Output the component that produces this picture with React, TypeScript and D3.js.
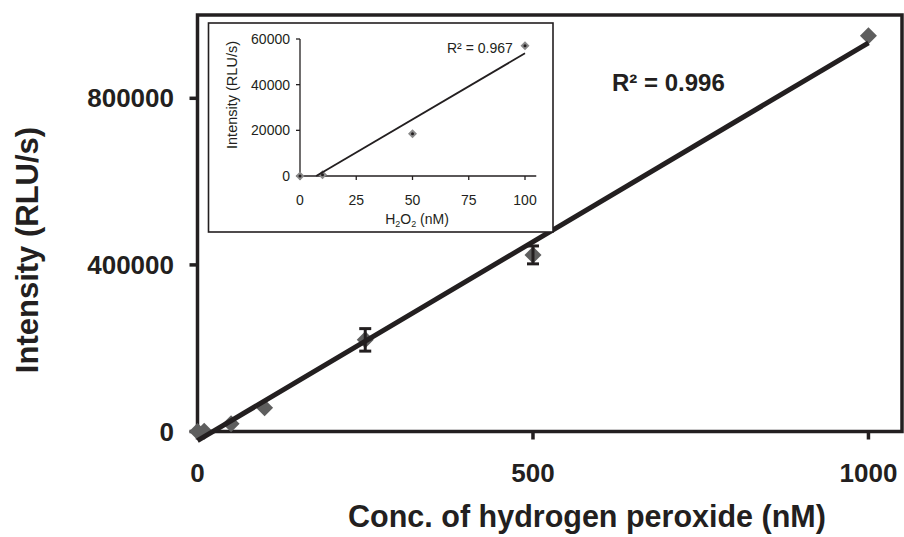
import React from "react";
import * as d3 from "d3";

const concentrations = [0, 10, 50, 100, 250, 500, 1000];
const intensities = [0, 500, 18500, 57000, 220000, 424000, 950000];
const errors = [0, 0, 0, 0, 27000, 21500, 0];
const mainXTicks = [0, 500, 1000];
const mainYTicks = [0, 400000, 800000];

const insetConc = [0, 10, 50, 100];
const insetInt = [0, 500, 18500, 57000];
const insetXTicks = [0, 25, 50, 75, 100];
const insetYTicks = [0, 20000, 40000, 60000];

const mainR2 = "R² = 0.996";
const insetR2 = "R² = 0.967";

function linreg(xs: number[], ys: number[]) {
  const n = xs.length;
  const mx = d3.mean(xs)!;
  const my = d3.mean(ys)!;
  let sxy = 0, sxx = 0;
  for (let i = 0; i < n; i++) {
    sxy += (xs[i] - mx) * (ys[i] - my);
    sxx += (xs[i] - mx) * (xs[i] - mx);
  }
  const slope = sxy / sxx;
  return { slope, intercept: my - slope * mx };
}

const FONT = "'Liberation Sans', Arial, Helvetica, sans-serif";
const DARK = "#231f20";

export default function App() {
  // main scales
  const x = d3.scaleLinear().domain([0, 1050]).range([197.5, 902]);
  const y = d3.scaleLinear().domain([0, 1000000]).range([431.5, 15]);
  const reg = linreg(concentrations, intensities);

  // inset scales
  const ix = d3.scaleLinear().domain([0, 105]).range([300, 536.25]);
  const iy = d3.scaleLinear().domain([0, 60000]).range([176, 39]);
  const ireg = linreg(insetConc, insetInt);
  const ix0 = Math.max(0, -ireg.intercept / ireg.slope);

  const diamond = (cx: number, cy: number, r: number) =>
    `M${cx},${cy - r}L${cx + r},${cy}L${cx},${cy + r}L${cx - r},${cy}Z`;

  return (
    <svg
      width={904}
      height={537}
      style={{ position: "absolute", left: 0, top: 0, background: "#fff" }}
      fontFamily={FONT}
    >
      <rect x={0} y={0} width={904} height={537} fill="#fff" />
      {/* main frame */}
      <rect
        x={x(0)}
        y={y(1000000)}
        width={x(1050) - x(0)}
        height={y(0) - y(1000000)}
        fill="none"
        stroke={DARK}
        strokeWidth={3.5}
      />
      {/* y ticks */}
      {mainYTicks.map((t) => (
        <g key={"yt" + t}>
          <line x1={x(0) - 8} x2={x(0)} y1={y(t)} y2={y(t)} stroke={DARK} strokeWidth={3.5} />
          <text
            x={174}
            y={y(t)}
            textAnchor="end"
            dominantBaseline="central"
            fontWeight="bold"
            fontSize={26}
            fill={DARK}
          >
            {t}
          </text>
        </g>
      ))}
      {/* x ticks */}
      {mainXTicks.map((t) => (
        <g key={"xt" + t}>
          <line x1={x(t)} x2={x(t)} y1={y(0)} y2={y(0) + 8} stroke={DARK} strokeWidth={3.5} />
          <text
            x={x(t)}
            y={473}
            textAnchor="middle"
            dominantBaseline="central"
            fontWeight="bold"
            fontSize={26}
            fill={DARK}
          >
            {t}
          </text>
        </g>
      ))}
      {/* axis titles */}
      <text
        transform={`translate(38,250) rotate(-90)`}
        textAnchor="middle"
        fontWeight="bold"
        fontSize={31}
        fill={DARK}
      >
        Intensity (RLU/s)
      </text>
      <text x={587} y={527} textAnchor="middle" fontWeight="bold" fontSize={30.5} fill={DARK}>
        Conc. of hydrogen peroxide (nM)
      </text>

      {/* markers */}
      {concentrations.map((c, i) => (
        <path key={"m" + i} d={diamond(x(c), y(intensities[i]), 8.5)} fill="#5e5e5e" />
      ))}
      {/* trendline */}
      <line
        x1={x(0)}
        y1={y(reg.intercept)}
        x2={x(1000)}
        y2={y(reg.intercept + reg.slope * 1000)}
        stroke={DARK}
        strokeWidth={5}
      />
      {/* error bars */}
      {concentrations.map((c, i) =>
        errors[i] > 0 ? (
          <g key={"e" + i} stroke={DARK} strokeWidth={3}>
            <line x1={x(c)} x2={x(c)} y1={y(intensities[i] - errors[i])} y2={y(intensities[i] + errors[i])} />
            <line x1={x(c) - 6} x2={x(c) + 6} y1={y(intensities[i] - errors[i])} y2={y(intensities[i] - errors[i])} />
            <line x1={x(c) - 6} x2={x(c) + 6} y1={y(intensities[i] + errors[i])} y2={y(intensities[i] + errors[i])} />
          </g>
        ) : null
      )}
      <text x={612} y={91} fontWeight="bold" fontSize={24} fill={DARK}>
        {mainR2}
      </text>

      {/* inset */}
      <rect x={208.5} y={23} width={344.5} height={209} fill="#fff" stroke={DARK} strokeWidth={1.6} />
      <line x1={ix(0)} x2={ix(0)} y1={iy(0)} y2={iy(60000)} stroke={DARK} strokeWidth={1.3} />
      <line x1={ix(0)} x2={ix(105)} y1={iy(0)} y2={iy(0)} stroke={DARK} strokeWidth={1.3} />
      {insetYTicks.map((t) => (
        <g key={"iyt" + t}>
          <line x1={ix(0) - 4} x2={ix(0)} y1={iy(t)} y2={iy(t)} stroke={DARK} strokeWidth={1.3} />
          <text x={290} y={iy(t)} textAnchor="end" dominantBaseline="central" fontSize={14} fill={DARK}>
            {t}
          </text>
        </g>
      ))}
      {insetXTicks.map((t) => (
        <g key={"ixt" + t}>
          <line x1={ix(t)} x2={ix(t)} y1={iy(0)} y2={iy(0) + 4} stroke={DARK} strokeWidth={1.3} />
          <text x={ix(t)} y={200} textAnchor="middle" dominantBaseline="central" fontSize={14} fill={DARK}>
            {t}
          </text>
        </g>
      ))}
      <text x={417} y={224} textAnchor="middle" fontSize={14} fill={DARK}>
        H<tspan fontSize={9} dy={3}>2</tspan>
        <tspan dy={-3}>O</tspan>
        <tspan fontSize={9} dy={3}>2</tspan>
        <tspan dy={-3}> (nM)</tspan>
      </text>
      <text transform={`translate(237,95) rotate(-90)`} textAnchor="middle" fontSize={14.5} fill={DARK}>
        Intensity (RLU/s)
      </text>
      {insetConc.map((c, i) => (
        <g key={"im" + i}>
          <path d={diamond(ix(c), iy(insetInt[i]), 4.5)} fill="#8a8a8a" />
          <circle cx={ix(c)} cy={iy(insetInt[i])} r={1.5} fill={DARK} />
        </g>
      ))}
      <line
        x1={ix(ix0)}
        y1={iy(ireg.intercept + ireg.slope * ix0)}
        x2={ix(100)}
        y2={iy(ireg.intercept + ireg.slope * 100)}
        stroke={DARK}
        strokeWidth={1.8}
      />
      <text x={447} y={53} fontSize={14} fill={DARK}>
        {insetR2}
      </text>
    </svg>
  );
}
